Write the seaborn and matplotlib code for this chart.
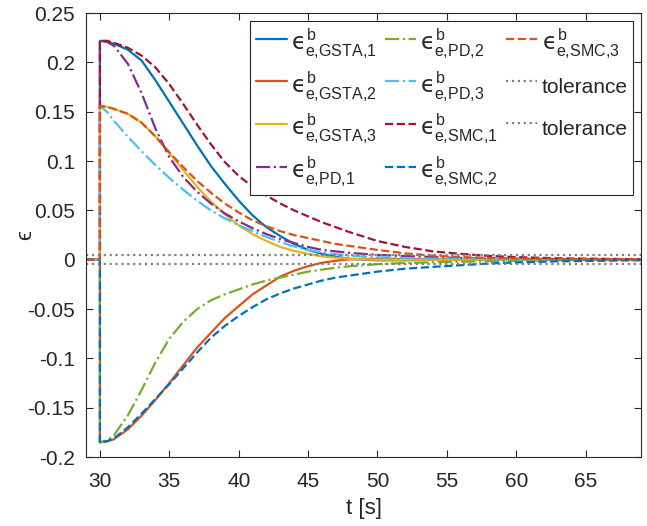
import matplotlib
matplotlib.use("Agg")
import matplotlib.pyplot as plt
import seaborn as sns
import numpy as np
import pandas as pd

# time grid (the step at t = 30 is drawn as a vertical jump)
t = [29, 30, 30, 30.5, 31, 32, 33, 34, 35, 36, 37, 38, 39, 40, 41, 42, 43, 44,
     45, 46, 47, 48, 50, 52, 54, 56, 58, 60, 63, 66, 69]

gsta_1 = [0, 0, 0.222, 0.221, 0.219, 0.213, 0.202, 0.182, 0.160, 0.138, 0.116, 0.095,
          0.077, 0.060, 0.045, 0.033, 0.024, 0.016, 0.010, 0.006, 0.003, 0.001,
          -0.0005, -0.0005, 0, 0, 0, 0, 0, 0, 0]
gsta_2 = [0, 0, -0.185, -0.184, -0.182, -0.172, -0.158, -0.142, -0.125, -0.107, -0.089,
          -0.074, -0.059, -0.047, -0.035, -0.026, -0.017, -0.011, -0.0065, -0.003,
          -0.001, 0.0005, 0.001, 0.0008, 0.0005, 0.0003, 0.0002, 0.0001, 0, 0, 0]
gsta_3 = [0, 0, 0.156, 0.155, 0.153, 0.148, 0.139, 0.125, 0.108, 0.091, 0.074, 0.059,
          0.046, 0.035, 0.026, 0.019, 0.013, 0.009, 0.006, 0.0035, 0.002, 0.001,
          0, 0, 0, 0, 0, 0, 0, 0, 0]
pd_1 = [0, 0, 0.222, 0.221, 0.217, 0.199, 0.169, 0.133, 0.104, 0.084, 0.069, 0.057,
        0.047, 0.039, 0.032, 0.026, 0.021, 0.017, 0.013, 0.010, 0.0085, 0.007,
        0.005, 0.0038, 0.0028, 0.0018, 0.0012, 0.0008, 0.0004, 0.0002, 0]
pd_2 = [0, 0, -0.185, -0.183, -0.178, -0.158, -0.132, -0.104, -0.080, -0.063, -0.050,
        -0.041, -0.035, -0.030, -0.025, -0.021, -0.018, -0.015, -0.012, -0.010,
        -0.008, -0.0065, -0.0045, -0.0033, -0.0025, -0.002, -0.0015, -0.001,
        -0.0006, -0.0003, 0]
pd_3 = [0, 0, 0.156, 0.150, 0.141, 0.125, 0.110, 0.096, 0.083, 0.071, 0.060, 0.050,
        0.042, 0.035, 0.029, 0.023, 0.018, 0.0135, 0.010, 0.0075, 0.0055, 0.004,
        0.0025, 0.0018, 0.0012, 0.001, 0.0007, 0.0005, 0.0003, 0.0001, 0]
smc_1 = [0, 0, 0.222, 0.222, 0.220, 0.215, 0.207, 0.195, 0.178, 0.158, 0.137, 0.117,
         0.099, 0.085, 0.074, 0.065, 0.057, 0.050, 0.044, 0.038, 0.033, 0.028,
         0.019, 0.013, 0.0085, 0.006, 0.004, 0.0027, 0.0015, 0.001, 0.0005]
smc_2 = [0, 0, -0.185, -0.184, -0.181, -0.170, -0.156, -0.141, -0.126, -0.110, -0.094,
         -0.079, -0.067, -0.057, -0.048, -0.040, -0.034, -0.029, -0.025, -0.021,
         -0.018, -0.016, -0.012, -0.009, -0.0072, -0.0055, -0.0038, -0.0027,
         -0.0016, -0.001, -0.0005]
smc_3 = [0, 0, 0.156, 0.155, 0.153, 0.148, 0.139, 0.125, 0.109, 0.094, 0.080, 0.068,
         0.057, 0.048, 0.040, 0.034, 0.029, 0.025, 0.022, 0.019, 0.016, 0.014,
         0.010, 0.0065, 0.0042, 0.0028, 0.0019, 0.0013, 0.0008, 0.0005, 0.0003]

tol_t = [29, 69]
tolerance = 0.0045

series = [
    ("GSTA,1", gsta_1, "#0072BD", "-"),
    ("GSTA,2", gsta_2, "#D95319", "-"),
    ("GSTA,3", gsta_3, "#EDB120", "-"),
    ("PD,1", pd_1, "#7E2F8E", "-."),
    ("PD,2", pd_2, "#77AC30", "-."),
    ("PD,3", pd_3, "#4DBEEE", "-."),
    ("SMC,1", smc_1, "#A2142F", "--"),
    ("SMC,2", smc_2, "#0072BD", "--"),
    ("SMC,3", smc_3, "#D95319", "--"),
]

sns.set_style("ticks")
plt.rcParams["font.family"] = ["Liberation Sans", "DejaVu Sans"]
plt.rcParams["mathtext.fontset"] = "custom"
plt.rcParams["mathtext.rm"] = "Liberation Sans"
plt.rcParams["mathtext.it"] = "DejaVu Sans"
plt.rcParams["mathtext.fallback"] = "stixsans"

fig = plt.figure(figsize=(6.47, 5.26), dpi=100)
ax = fig.add_axes([0.133, 0.131, 0.858, 0.844])

for name, vals, color, ls in series:
    df = pd.DataFrame({"t": t, "e": vals})
    sub = "e{,}" + name.replace(",", "{,}")
    lbl = "$\u03f5^{\\mathrm{b}}_{\\mathrm{" + sub + "}}$"
    sns.lineplot(data=df, x="t", y="e", ax=ax, color=color, linestyle=ls,
                 linewidth=1.6, estimator=None, sort=False, label=lbl)

for s in (1, -1):
    df = pd.DataFrame({"t": tol_t, "e": [s * tolerance] * 2})
    sns.lineplot(data=df, x="t", y="e", ax=ax, color="#808080", linestyle=":",
                 linewidth=1.6, estimator=None, sort=False, label="tolerance")

ax.set_xlim(29, 69)
ax.set_ylim(-0.2, 0.25)
ax.set_xticks(np.arange(30, 66, 5))
ax.set_yticks(np.arange(-0.2, 0.26, 0.05))
ax.set_yticklabels(["-0.2", "-0.15", "-0.1", "-0.05", "0", "0.05", "0.1", "0.15", "0.2", "0.25"])
ax.tick_params(direction="in", top=True, right=True, length=5, width=0.8,
               labelsize=15, colors="#262626")
ax.tick_params(axis="x", pad=11)
ax.tick_params(axis="y", pad=8)
for sp in ax.spines.values():
    sp.set_visible(True)
    sp.set_color("#262626")
    sp.set_linewidth(0.8)

ax.set_xlabel("t [s]", fontsize=16, color="#262626", labelpad=5)
ax.set_ylabel("\u03f5", fontsize=16, color="#262626")
ax.yaxis.set_label_coords(-0.09, 0.5)

leg = ax.legend(ncol=3, loc="upper right", fontsize=15, handlelength=1.5,
                handleheight=2.1, handletextpad=0.2, columnspacing=0.4,
                labelspacing=0.42, borderaxespad=0.4, borderpad=0.25,
                fancybox=False, framealpha=1)
for txt in leg.get_texts():
    if txt.get_text() != "tolerance":
        txt.set_fontsize(16.5)
leg.get_frame().set_edgecolor("#262626")
leg.get_frame().set_linewidth(0.8)

fig.savefig("out.png", dpi=100)
